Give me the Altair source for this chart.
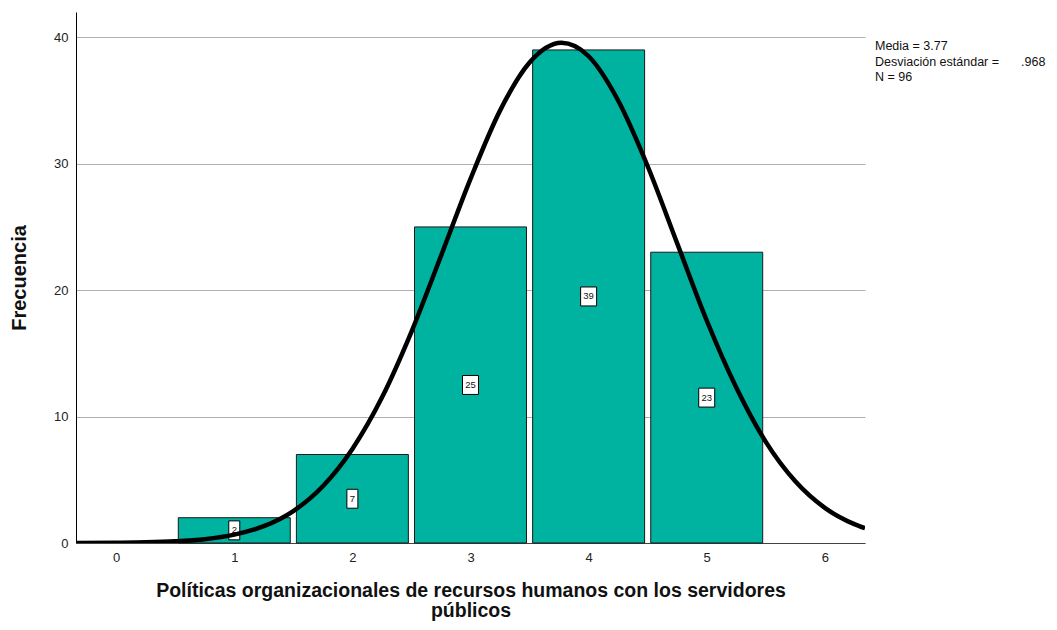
import altair as alt
import pandas as pd

# Data
valores = [1, 2, 3, 4, 5]
frecuencias = [2, 7, 25, 39, 23]

curva_x = [-0.34, 0.0, 0.25, 0.5, 0.75, 1.0, 1.25, 1.5, 1.75, 2.0, 2.25, 2.5, 2.75,
           3.0, 3.25, 3.5, 3.77, 4.0, 4.25, 4.5, 4.75, 5.0, 5.25, 5.5, 5.75, 6.0, 6.25, 6.34]
curva_y = [0.005, 0.02, 0.05, 0.13, 0.30, 0.66, 1.33, 2.53, 4.49, 7.44, 11.5, 16.7, 22.7,
           28.8, 34.2, 38.0, 39.56, 38.5, 35.0, 29.8, 23.7, 17.6, 12.3, 8.0, 4.88, 2.78, 1.49, 1.17]

stat_lineas = ["Media =  3.77", "Desviación estándar =", "N = 96"]
stat_valor_desv = ".968"

x_ticks = [0, 1, 2, 3, 4, 5, 6]
y_ticks = [0, 10, 20, 30, 40]

FONT = "Liberation Sans"
PX_PER_UNIT = 789 / 6.68

barras = pd.DataFrame({"valor": valores, "frecuencia": frecuencias})
curva = pd.DataFrame({"x": curva_x, "y": curva_y})

xscale = alt.Scale(domain=[-0.34, 6.34], nice=False, zero=False)
yscale = alt.Scale(domain=[0, 42], nice=False)

base = alt.Chart(barras)

bars = base.transform_calculate(
    x0="datum.valor - 0.474", x1="datum.valor + 0.474"
).mark_rect(color="#00b2a0", stroke="#1a1a1a", strokeWidth=1).encode(
    x=alt.X("x0:Q", scale=xscale,
            axis=alt.Axis(values=x_ticks, format="d", grid=False, ticks=False, domainColor="#444444",
                          labelFont=FONT, labelFontSize=13, labelColor="#222222", labelPadding=8,
                          title=["Políticas organizacionales de recursos humanos con los servidores", "públicos"],
                          titleFont=FONT, titleFontSize=19.5, titleFontWeight="bold",
                          titleColor="#111111", titleLineHeight=20, titlePadding=17)),
    x2="x1:Q",
    y=alt.Y("frecuencia:Q", scale=yscale,
            axis=alt.Axis(values=y_ticks, grid=True, gridColor="#b0b0b0", ticks=False,
                          domainColor="#000000", labelFont=FONT, labelFontSize=13,
                          labelColor="#222222", labelPadding=8,
                          title="Frecuencia", titleFont=FONT, titleFontSize=20,
                          titleFontWeight="bold", titleColor="#111111", titlePadding=24)),
    y2=alt.datum(0),
)

boxes = base.transform_calculate(
    half=f"(datum.frecuencia < 10 ? 5.5 : 8) / {PX_PER_UNIT}",
    bx0="datum.valor - datum.half", bx1="datum.valor + datum.half",
    by0="datum.frecuencia / 2 - 0.75", by1="datum.frecuencia / 2 + 0.75"
).mark_rect(fill="white", stroke="black", strokeWidth=1).encode(
    x=alt.X("bx0:Q", scale=xscale), x2="bx1:Q",
    y=alt.Y("by0:Q", scale=yscale), y2="by1:Q",
)

labels = base.transform_calculate(
    ym="datum.frecuencia / 2"
).mark_text(font=FONT, fontSize=9.5, color="#111111", baseline="middle", align="center").encode(
    x=alt.X("valor:Q", scale=xscale),
    y=alt.Y("ym:Q", scale=yscale),
    text="frecuencia:Q",
)

line = alt.Chart(curva).mark_line(color="black", strokeWidth=4.5, interpolate="monotone",
                                  clip=True).encode(
    x=alt.X("x:Q", scale=xscale),
    y=alt.Y("y:Q", scale=yscale),
)

stat_layers = []
for i, t in enumerate(stat_lineas):
    stat_layers.append(
        alt.Chart(pd.DataFrame({"t": [t]})).mark_text(
            font=FONT, fontSize=12.5, color="#111111", align="left", baseline="middle"
        ).encode(x=alt.value(799), y=alt.value(34 + 15.5 * i), text="t:N")
    )
stat_layers.append(
    alt.Chart(pd.DataFrame({"t": [stat_valor_desv]})).mark_text(
        font=FONT, fontSize=12.5, color="#111111", align="left", baseline="middle"
    ).encode(x=alt.value(945), y=alt.value(49.5), text="t:N")
)

chart = alt.layer(bars, boxes, labels, line, *stat_layers).properties(
    width=789, height=531,
    background="white",
    autosize=alt.AutoSizeParams(type="none"),
    padding={"left": 68, "top": 4, "right": 184, "bottom": 79},
).configure_view(strokeWidth=0)

chart.save("out.html", embed_options={"renderer": "svg", "actions": False})
